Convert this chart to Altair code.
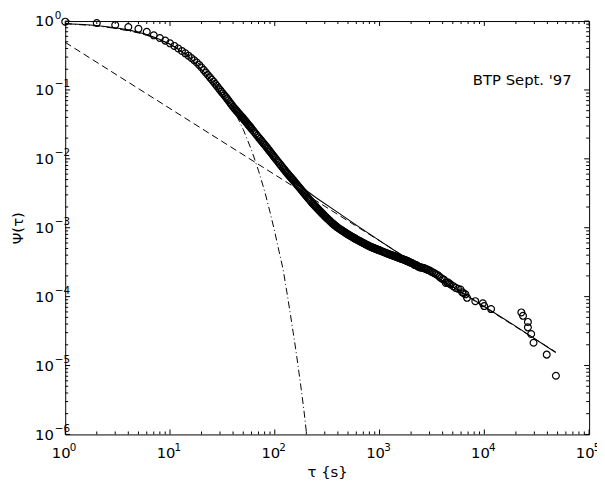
import altair as alt
import pandas as pd

FONT = "DejaVu Sans"

tau_obs = (
    [1, 2, 3, 4, 5, 6, 7, 8, 9, 10, 11, 12, 13, 14, 15, 16, 17, 18, 19, 20]
    + [21, 22, 23, 24, 25, 26, 27, 28, 29, 30, 31, 32, 33, 34, 35, 36, 37, 38, 39, 40]
    + [41, 42, 43, 44, 45, 46, 47, 48, 49, 50, 51, 52, 53, 54, 55, 56, 57, 58, 59, 60]
    + [62, 64, 66, 68, 70, 72, 74, 76, 78, 80, 82, 84, 86, 88, 90, 92, 94, 96, 98, 100]
    + [103, 106, 109, 112, 115, 118, 121, 124, 127, 130, 133, 136, 139, 142, 145, 148]
    + [150, 154, 158, 162, 166, 170, 174, 178, 182, 186, 190, 194, 198]
    + [202, 207, 212, 217, 222, 227, 232, 237, 242, 247, 252, 257, 262, 267, 272, 277, 282, 287, 292, 297]
    + [302, 309, 316, 323, 330, 337, 344, 351, 358, 365, 372, 379, 386, 393, 400]
    + [410, 420, 430, 440, 450, 460, 470, 480, 490, 500, 510, 520, 530, 540, 550, 560, 570, 580, 590, 600]
    + [615, 630, 645, 660, 675, 690, 705, 720, 735, 750, 765, 780, 795, 810, 825, 840, 855, 870, 885,
       900, 915, 930, 945, 960, 975, 990]
    + [1000, 1030, 1060, 1090, 1120, 1150, 1180, 1210, 1240, 1270, 1300, 1330, 1360, 1390, 1420, 1450,
       1480, 1510, 1540, 1570, 1600, 1630, 1660, 1690, 1720, 1750, 1780, 1810, 1840, 1870, 1900, 1930,
       1960, 1990]
    + [2050, 2100, 2155, 2200, 2250, 2300, 2350, 2400, 2450, 2500, 2575, 2650, 2700, 2770, 2830, 2900,
       3000, 3090, 3200, 3325, 3450, 3600, 3720, 3845, 4000, 4130, 4285, 4400, 4500, 4640, 4775, 5050,
       5320, 5600, 5930, 6140, 6350, 6600, 6840, 8200, 9680, 9970, 11600]
    + [22550, 23400, 26050, 26050, 28000, 29500, 39400, 48200]
)
psi_obs = (
    [0.98, 0.936, 0.876, 0.82, 0.77, 0.70, 0.62, 0.567, 0.52, 0.475, 0.436, 0.400, 0.368, 0.340,
     0.314, 0.291, 0.270, 0.250, 0.231, 0.212]
    + [0.1941, 0.1784, 0.1647, 0.1526, 0.1417, 0.132, 0.1227, 0.1143, 0.1068, 0.100, 0.0940, 0.0887,
       0.0837, 0.0792, 0.075, 0.0708, 0.0669, 0.0633, 0.0601, 0.057]
    + [0.0546, 0.0523, 0.0502, 0.0482, 0.0463, 0.0446, 0.0429, 0.0413, 0.0399, 0.0385, 0.0371, 0.0358,
       0.0346, 0.0334, 0.0323, 0.0312, 0.0302, 0.0293, 0.0284, 0.0275]
    + [0.02584, 0.02431, 0.02293, 0.02166, 0.0205, 0.01947, 0.01851, 0.01763, 0.0168, 0.01604, 0.01533,
       0.01465, 0.01399, 0.01337, 0.0128, 0.01226, 0.01175, 0.01127, 0.01082, 0.0104]
    + [0.00983, 0.0093, 0.00882, 0.00837, 0.00796, 0.00758, 0.00722, 0.0069, 0.00658, 0.0063, 0.00605,
       0.00582, 0.0056, 0.00539, 0.0052, 0.00502]
    + [0.0049, 0.00467, 0.00446, 0.00426, 0.00407, 0.0039, 0.00374, 0.00359, 0.00344, 0.00331, 0.00318,
       0.00307, 0.00295]
    + [0.00285, 0.00272, 0.00261, 0.0025, 0.0024, 0.0023, 0.00222, 0.002145, 0.002075, 0.002008,
       0.001945, 0.001885, 0.001828, 0.001775, 0.001724, 0.001676, 0.00163, 0.001585, 0.001543, 0.001503]
    + [0.001466, 0.001417, 0.001371, 0.001328, 0.001287, 0.001248, 0.00121, 0.001176, 0.001148,
       0.00112, 0.001094, 0.001069, 0.001045, 0.001022, 0.001]
    + [0.000976, 0.000952, 0.00093, 0.000909, 0.000889, 0.00087, 0.000851, 0.000833, 0.000816, 0.0008,
       0.000786, 0.000772, 0.000759, 0.000747, 0.000735, 0.000723, 0.000711, 0.000701, 0.00069, 0.00068]
    + [0.000666, 0.000653, 0.000641, 0.000629, 0.000618, 0.000607, 0.000597, 0.000587, 0.000577,
       0.000568, 0.000559, 0.000551, 0.000543, 0.000536, 0.000529, 0.000523, 0.000517, 0.000511,
       0.000506, 0.0005, 0.000495, 0.00049, 0.000486, 0.000481, 0.000477, 0.000473]
    + [0.00047, 0.000461, 0.000453, 0.000446, 0.000438, 0.000431, 0.000424, 0.000418, 0.000412,
       0.000407, 0.000401, 0.000396, 0.000391, 0.000386, 0.000382, 0.000377, 0.000373, 0.000369,
       0.000365, 0.000361, 0.000357, 0.000353, 0.00035, 0.000347, 0.000343, 0.00034, 0.000336,
       0.000332, 0.000328, 0.000325, 0.000321, 0.000318, 0.000314, 0.000311]
    + [0.000305, 0.0003, 0.000289, 0.00029, 0.000285, 0.00028, 0.000272, 0.000268, 0.000266, 0.000265,
       0.000262, 0.00026, 0.000256, 0.000251, 0.000248, 0.000245, 0.00024, 0.000232, 0.000226, 0.00022,
       0.000212, 0.000205, 0.000195, 0.000187, 0.00018, 0.000176, 0.000158, 0.000162, 0.00016,
       0.000155, 0.00015, 0.000142, 0.000134, 0.00013, 0.000127, 0.000116, 0.000112, 0.000108,
       0.000096, 0.000086, 0.00008, 0.000073, 0.000066]
    + [5.9e-5, 5.26e-5, 4.3e-5, 3.58e-5, 2.87e-5, 2.14e-5, 1.44e-5, 7.1e-6]
)

# full fit (solid)
tau_fit = [1, 1.5, 2, 3, 4, 5, 6, 7, 8, 10, 12, 15, 18, 22, 27, 33, 40, 50, 60, 70, 85, 100, 115,
           130, 150, 180, 250, 380, 600, 1000, 1600, 2500, 5000, 10000, 20000, 48000]
psi_fit = [0.915, 0.89, 0.86, 0.80, 0.745, 0.69, 0.635, 0.585, 0.54, 0.46, 0.39, 0.305, 0.235, 0.17,
           0.115, 0.077, 0.056, 0.037, 0.0262, 0.0192, 0.0132, 0.0098, 0.0076, 0.0061, 0.0048, 0.0039,
           0.0027, 0.00176, 0.00109, 6.5e-4, 4.05e-4, 2.6e-4, 1.39e-4, 7.2e-5, 3.7e-5, 1.55e-5]

# power-law asymptote (dashed)
tau_pow = [1, 48000]
psi_pow = [0.49, 1.57e-5]

# stretched-exponential asymptote (dash-dot)
tau_str = [1, 2, 3, 5, 7, 10, 15, 20, 30, 40, 50, 60, 70, 80, 90, 100, 110, 120, 130, 140, 150,
           160, 170, 180, 190, 200]
psi_str = [0.92, 0.85, 0.785, 0.672, 0.578, 0.462, 0.32, 0.222, 0.109, 0.054, 0.0267, 0.0134, 0.0067,
           0.0034, 0.0017, 8.7e-4, 4.5e-4, 2.5e-4, 1.2e-4, 5.9e-5, 3.0e-5, 1.56e-5, 8e-6, 4.2e-6,
           2.2e-6, 1.1e-6]

x_major = [1, 10, 100, 1000, 10000, 100000]
y_major = [1e-6, 1e-5, 1e-4, 1e-3, 1e-2, 1e-1, 1]
x_minor = [m * 10 ** k for k in range(0, 5) for m in range(2, 10)]
y_minor = [m * 10.0 ** k for k in range(-6, 0) for m in range(2, 10)]

note_x = [23000]
note_y = [0.14]
note_t = ["BTP Sept. '97"]

W, H = 531, 419
MAJ, MIN = 5, 3

xs = alt.Scale(type="log", domain=[1, 100000], nice=False)
ys = alt.Scale(type="log", domain=[1e-6, 1], nice=False)

EXP = "format(round(log(datum.value)/LN10),'d')"

x_ax_main = alt.Axis(values=x_major, labelExpr="'10'", labelFont=FONT, labelFontSize=15,
                     labelOffset=-4.5, labelPadding=23, labelBaseline="alphabetic",
                     labelFlush=False, labelOverlap=False, ticks=False, tickSize=0,
                     domain=False, grid=False, orient="bottom",
                     title="τ {s}", titleFont=FONT, titleFontSize=15, titleFontWeight="normal",
                     titleX=265.5, titleY=43, titleBaseline="alphabetic", titleAlign="center")
x_ax_exp = alt.Axis(values=x_major, labelExpr=EXP, labelFont=FONT, labelFontSize=10.5,
                    labelOffset=7.5, labelPadding=16, labelBaseline="alphabetic",
                    labelFlush=False, labelOverlap=False, ticks=False, tickSize=0,
                    domain=False, grid=False, orient="bottom", title=None)
y_ax_main = alt.Axis(values=y_major, labelExpr="'10'", labelFont=FONT, labelFontSize=15,
                     labelAlign="right", labelBaseline="middle", labelPadding=12,
                     labelFlush=False, labelOverlap=False, ticks=False, tickSize=0,
                     domain=False, grid=False, orient="left",
                     title="Ψ(τ)", titleFont=FONT, titleFontSize=15, titleFontWeight="normal",
                     titleX=-43, titleY=209.5, titleBaseline="alphabetic", titleAlign="center")
y_ax_exp = alt.Axis(values=y_major, labelExpr=EXP, labelFont=FONT, labelFontSize=10.5,
                    labelAlign="left", labelBaseline="middle", labelPadding=11, labelOffset=-6,
                    labelFlush=False, labelOverlap=False, ticks=False, tickSize=0,
                    domain=False, grid=False, orient="left", title=None)

obs = pd.DataFrame({"tau": tau_obs, "psi": psi_obs})
fit = pd.DataFrame({"tau": tau_fit, "psi": psi_fit})
pw = pd.DataFrame({"tau": tau_pow, "psi": psi_pow})
st = pd.DataFrame({"tau": tau_str, "psi": psi_str})

circles = alt.Chart(obs).mark_point(shape="circle", filled=False, size=48, stroke="black",
                                    strokeWidth=1.2, opacity=1).encode(
    x=alt.X("tau:Q", scale=xs, axis=x_ax_main),
    y=alt.Y("psi:Q", scale=ys, axis=y_ax_main))

solid = alt.Chart(fit).mark_line(color="black", strokeWidth=1.1).encode(
    x=alt.X("tau:Q", scale=xs, axis=x_ax_exp),
    y=alt.Y("psi:Q", scale=ys, axis=y_ax_exp))

dashed = alt.Chart(pw).mark_line(color="black", strokeWidth=1, strokeDash=[7, 4]).encode(
    x=alt.X("tau:Q", scale=xs, axis=None),
    y=alt.Y("psi:Q", scale=ys, axis=None))

dashdot = alt.Chart(st).mark_line(color="black", strokeWidth=1, strokeDash=[7, 3, 1, 3]).encode(
    x=alt.X("tau:Q", scale=xs, axis=None),
    y=alt.Y("psi:Q", scale=ys, axis=None))

note = alt.Chart(pd.DataFrame({"x": note_x, "y": note_y, "t": note_t})).mark_text(
    font=FONT, fontSize=15, align="center", baseline="middle", color="black").encode(
    x=alt.X("x:Q", scale=xs, axis=None),
    y=alt.Y("y:Q", scale=ys, axis=None),
    text="t:N")


def xticks(vals, length, top):
    d = pd.DataFrame({"v": vals})
    y0 = 0 if top else H
    y1 = length if top else H - length
    return alt.Chart(d).mark_rule(color="black", strokeWidth=1).encode(
        x=alt.X("v:Q", scale=xs, axis=None), y=alt.value(y0), y2=alt.value(y1))


def yticks(vals, length, right):
    d = pd.DataFrame({"v": vals})
    x0 = W if right else 0
    x1 = W - length if right else length
    return alt.Chart(d).mark_rule(color="black", strokeWidth=1).encode(
        y=alt.Y("v:Q", scale=ys, axis=None), x=alt.value(x0), x2=alt.value(x1))


ticks = [xticks(x_major, MAJ, False), xticks(x_minor, MIN, False),
         xticks(x_major, MAJ, True), xticks(x_minor, MIN, True),
         yticks(y_major, MAJ, False), yticks(y_minor, MIN, False),
         yticks(y_major, MAJ, True), yticks(y_minor, MIN, True)]

chart = alt.layer(circles, solid, dashed, dashdot, note, *ticks).resolve_axis(
    x="independent", y="independent").properties(
    width=W, height=H,
    padding={"left": 58, "top": 10, "right": 8, "bottom": 46},
    autosize=alt.AutoSizeParams(type="none"),
    background="white",
).configure_view(stroke="black", strokeWidth=1)

chart.save("out.html", embed_options={"renderer": "svg", "actions": False})
